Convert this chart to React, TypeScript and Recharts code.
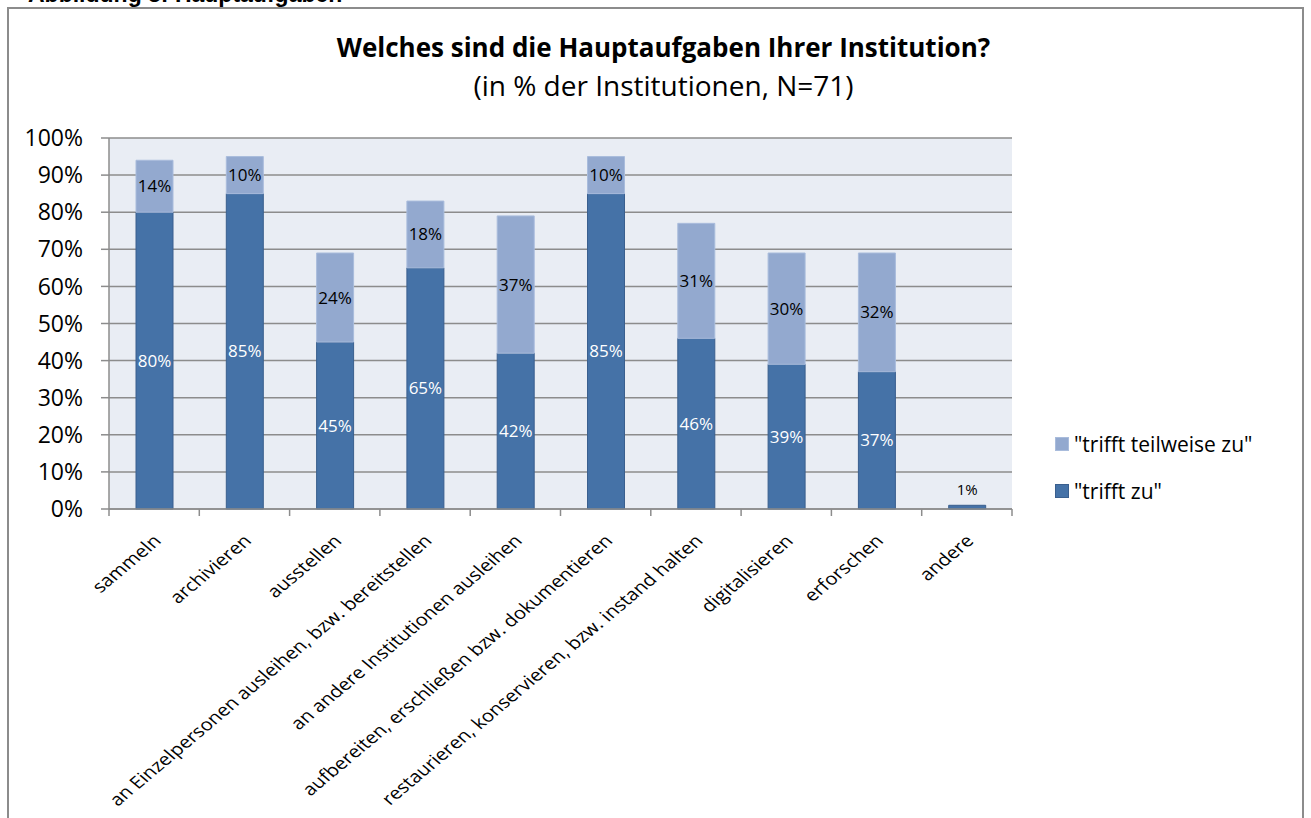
import { BarChart, Bar, XAxis, YAxis, CartesianGrid, LabelList } from 'recharts';

// Hauptaufgaben der Institutionen, in % (N=71)
const categories = [
  'sammeln',
  'archivieren',
  'ausstellen',
  'an Einzelpersonen ausleihen, bzw. bereitstellen',
  'an andere Institutionen ausleihen',
  'aufbereiten, erschließen bzw. dokumentieren',
  'restaurieren, konservieren, bzw. instand halten',
  'digitalisieren',
  'erforschen',
  'andere',
];
const trifftZu = [80, 85, 45, 65, 42, 85, 46, 39, 37, 1];
const trifftTeilweise = [14, 10, 24, 18, 37, 10, 31, 30, 32, 0];
const yTicks = [0, 10, 20, 30, 40, 50, 60, 70, 80, 90, 100];
const seriesNames = ['"trifft teilweise zu"', '"trifft zu"'];

const data = categories.map((name, i) => ({
  name,
  zu: trifftZu[i],
  teilweise: trifftTeilweise[i],
}));

const FONT = '"Open Sans", sans-serif';
const DARK = '#4572A7';
const LIGHT = '#93A9CF';
const GRID = '#8C8C8C';

const W = 1311;
const H = 818;
const M = { top: 138, right: 299, bottom: 9, left: 9 };
const Y_W = 100;
const X_H = 300;
const halfBand = (W - M.left - Y_W - M.right) / categories.length / 2;

// the source picture is a little stretched sideways, so the 45° labels sit nearer 40°
const XTick = (props: any) => {
  const { x, y, payload, index } = props;
  const last = index === categories.length - 1;
  const tx = x + 8;
  const ty = y + 33;
  return (
    <g>
      <line x1={x - halfBand} y1={y} x2={x - halfBand} y2={y + 7} stroke={GRID} strokeWidth={1.5} />
      {last && <line x1={x + halfBand} y1={y} x2={x + halfBand} y2={y + 7} stroke={GRID} strokeWidth={1.5} />}
      <text
        x={0}
        y={0}
        transform={`translate(${tx}, ${ty}) scale(1.19, 1) rotate(-45)`}
        textAnchor="end"
        fontFamily={FONT}
        fontSize={17}
        fill="#000"
      >
        {payload.value}
      </text>
    </g>
  );
};

const darkLabel = (props: any) => {
  const { x, y, width, height, value } = props;
  if (!value) return null;
  if (value < 5) {
    return (
      <text x={x + width / 2} y={y - 10} textAnchor="middle" fontFamily={FONT} fontSize={15} fill="#000">
        {value}%
      </text>
    );
  }
  return (
    <text x={x + width / 2} y={y + height / 2} dy={6} textAnchor="middle" fontFamily={FONT} fontSize={17} fill="#fff">
      {value}%
    </text>
  );
};

const lightLabel = (props: any) => {
  const { x, y, width, height, value } = props;
  if (!value) return null;
  return (
    <text x={x + width / 2} y={y + height / 2} dy={6} textAnchor="middle" fontFamily={FONT} fontSize={17} fill="#000">
      {value}%
    </text>
  );
};

const legendColors = [
  { fill: LIGHT, border: '#A9BCDC' },
  { fill: DARK, border: '#3A5F8E' },
];

export default function App() {
  return (
    <div style={{ position: 'absolute', left: 0, top: 0, width: W, height: H, overflow: 'hidden', background: '#fff' }}>
      <div
        style={{
          position: 'absolute',
          left: 28,
          top: -17,
          fontFamily: '"Liberation Sans", Arial, sans-serif',
          fontWeight: 'bold',
          fontSize: 23,
          lineHeight: 1,
          whiteSpace: 'nowrap',
        }}
      >
        Abbildung 3: Hauptaufgaben
      </div>
      <div
        style={{
          position: 'absolute',
          left: 7,
          top: 7,
          width: 1297,
          height: H,
          border: `2px solid ${GRID}`,
          boxSizing: 'border-box',
        }}
      />
      <div
        style={{
          position: 'absolute',
          left: 0,
          width: W,
          top: 28,
          textAlign: 'center',
          fontFamily: FONT,
          color: '#000',
          paddingLeft: 8,
        }}
      >
        <div style={{ fontWeight: 'bold', fontSize: 26, lineHeight: '38px' }}>
          Welches sind die Hauptaufgaben Ihrer Institution?
        </div>
        <div style={{ fontSize: 28, lineHeight: '38px' }}>(in % der Institutionen, N=71)</div>
      </div>
      <div style={{ position: 'absolute', left: 0, top: 0 }}>
        <BarChart width={W} height={H} data={data} margin={M} barSize={37}>
          <CartesianGrid vertical={false} horizontal stroke={GRID} strokeWidth={1.5} fill="#E9EDF4" />
          <XAxis
            dataKey="name"
            interval={0}
            height={X_H}
            tick={<XTick />}
            tickLine={false}
            tickSize={0}
            tickMargin={0}
            axisLine={{ stroke: GRID, strokeWidth: 1.5 }}
          />
          <YAxis
            width={Y_W}
            domain={[0, 100]}
            ticks={yTicks}
            interval={0}
            tickFormatter={(v) => `${v}%`}
            tick={{ fill: '#000', fontSize: 23, fontFamily: FONT }}
            tickSize={8}
            tickMargin={18}
            tickLine={{ stroke: GRID, strokeWidth: 1.5 }}
            axisLine={{ stroke: GRID, strokeWidth: 1.5 }}
          />
          <Bar dataKey="zu" name={seriesNames[1]} stackId="a" fill={DARK} stroke="#3A5F8E" strokeWidth={1} isAnimationActive={false}>
            <LabelList dataKey="zu" content={darkLabel} />
          </Bar>
          <Bar
            dataKey="teilweise"
            name={seriesNames[0]}
            stackId="a"
            fill={LIGHT}
            stroke="#A9BCDC"
            strokeWidth={1}
            isAnimationActive={false}
          >
            <LabelList dataKey="teilweise" content={lightLabel} />
          </Bar>
        </BarChart>
      </div>
      <div style={{ position: 'absolute', left: 1055, top: 420, fontFamily: FONT, fontSize: 21, color: '#000' }}>
        {seriesNames.map((name, i) => (
          <div key={name} style={{ display: 'flex', alignItems: 'center', height: 47 }}>
            <span
              style={{
                display: 'inline-block',
                width: 12,
                height: 12,
                background: legendColors[i].fill,
                border: `1px solid ${legendColors[i].border}`,
                marginRight: 5,
              }}
            />
            {name}
          </div>
        ))}
      </div>
    </div>
  );
}
